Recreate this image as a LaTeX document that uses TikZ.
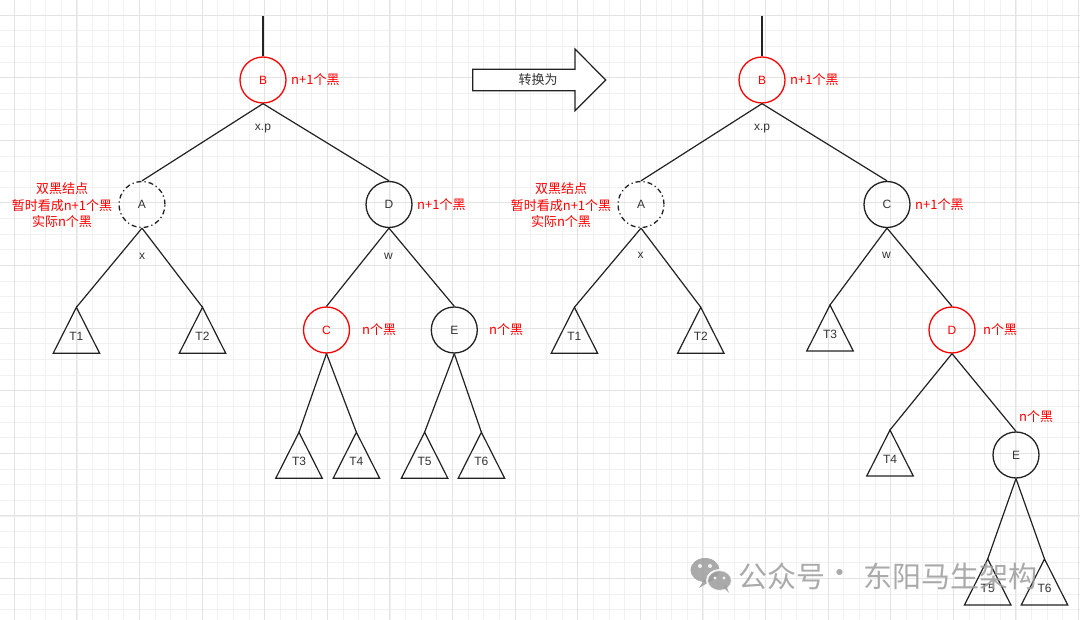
\documentclass[tikz,border=0pt]{standalone}
\usepackage{fontspec}
\setmainfont{Liberation Sans}
\newfontfamily\cjk{Noto Sans CJK SC}
\usetikzlibrary{calc}
\definecolor{gridminor}{HTML}{F1F1F1}
\definecolor{gridmajor}{HTML}{E3E3E3}
\definecolor{ink}{HTML}{222222}
\definecolor{txt}{HTML}{333333}
\definecolor{wm}{HTML}{9C9C9C}
\tikzset{
  rnode/.style={circle, draw=red, line width=1.3pt, minimum size=46pt, inner sep=0pt, text=red, font=\fontsize{12}{12}\selectfont},
  bnode/.style={circle, draw=ink, line width=1.3pt, minimum size=46pt, inner sep=0pt, text=txt, font=\fontsize{12}{12}\selectfont},
  dnode/.style={bnode, dash pattern=on 5pt off 3pt on 1.2pt off 3pt},
  note/.style={text=red, font=\cjk\fontsize{13}{16.5}\selectfont, inner sep=0pt, align=center},
  lbl/.style={text=txt, font=\fontsize{12}{12}\selectfont, inner sep=0pt},
  edge/.style={line width=1.2pt, draw=ink},
  minorgrid/.style={draw=gridminor, line width=0.8pt},
  majorgrid/.style={draw=gridmajor, line width=1pt},
}
\newcommand\mytri[4]{%
  \coordinate (#1) at (#2,#3);
  \draw[edge, line join=miter] (#1) -- ++(-23.25,46) -- ++(46.5,0) -- cycle;
  \node[lbl] (#1l) at ($(#1)+(0,29)$) {#4};
}
\begin{document}
\begin{tikzpicture}[x=1pt, y=-1pt]
\useasboundingbox (0,0) rectangle (1080,620);
\fill[white] (0,0) rectangle (1080,620);
% grid
\foreach \i in {-1,...,69} {\pgfmathsetmacro\xx{14.3+\i*15.65}\draw[minorgrid] (\xx,0) -- (\xx,620);}
\foreach \j in {-1,...,39} {\pgfmathsetmacro\yy{15.1+\j*15.65}\draw[minorgrid] (0,\yy) -- (1080,\yy);}
\foreach \i in {0,...,17} {\pgfmathsetmacro\xx{14.3+\i*62.6}\draw[majorgrid] (\xx,0) -- (\xx,620);}
\foreach \j in {0,...,9} {\pgfmathsetmacro\yy{15.1+\j*62.6}\draw[majorgrid] (0,\yy) -- (1080,\yy);}

% ================= left tree =================
\coordinate (topL) at (263,16);
\node[rnode] (B) at (263,80) {B};
\node[note, anchor=west] (Bn) at (291,80) {n+1个黑};
\node[lbl] (xp) at (263,128.5) {x.p};
\node[dnode] (A) at (142,204.5) {A};
\node[note] (An) at (62,205.5) {双黑结点\\暂时看成n+1个黑\\实际n个黑};
\node[bnode] (D) at (389,204.5) {D};
\node[note, anchor=west] (Dn) at (417,204.5) {n+1个黑};
\node[lbl] (xl) at (142,256) {x};
\node[lbl] (wl) at (388.5,256) {w};
\mytri{T1}{76.4}{307.3}{T1}
\mytri{T2}{202.5}{307.3}{T2}
\node[rnode] (C) at (326.5,330) {C};
\node[note, anchor=west] (Cn) at (362,330) {n个黑};
\node[bnode] (E) at (454.3,330) {E};
\node[note, anchor=west] (En) at (489,330) {n个黑};
\mytri{T3}{299}{432.3}{T3}
\mytri{T4}{356.4}{432.3}{T4}
\mytri{T5}{424.6}{432.3}{T5}
\mytri{T6}{481.4}{432.3}{T6}

\draw[edge] (topL) -- (B.north);
\draw[edge] (B.south) -- (A.north);
\draw[edge] (B.south) -- (D.north);
\draw[edge] (A.south) -- (T1);
\draw[edge] (A.south) -- (T2);
\draw[edge] (D.south) -- (C.north);
\draw[edge] (D.south) -- (E.north);
\draw[edge] (C.south) -- (T3);
\draw[edge] (C.south) -- (T4);
\draw[edge] (E.south) -- (T5);
\draw[edge] (E.south) -- (T6);

% ================= arrow =================
\draw[edge, line join=miter, fill=white] (472.7,69.3) -- (575,69.3) -- (575,49) -- (605.7,80) -- (575,110.7) -- (575,90.7) -- (472.7,90.7) -- cycle;
\node[text=txt, font=\cjk\fontsize{13}{13}\selectfont, inner sep=0pt] (arr) at (538,80) {转换为};

% ================= right tree =================
\coordinate (topR) at (762,16);
\node[rnode] (B2) at (762,80) {B};
\node[note, anchor=west] (B2n) at (790,80) {n+1个黑};
\node[lbl] (xp2) at (762,128.5) {x.p};
\node[dnode] (A2) at (641,204.5) {A};
\node[note] (A2n) at (561,205.5) {双黑结点\\暂时看成n+1个黑\\实际n个黑};
\node[bnode] (C2) at (887,204.5) {C};
\node[note, anchor=west] (C2n) at (915,204.5) {n+1个黑};
\node[lbl] (xl2) at (640.5,255.5) {x};
\node[lbl] (wl2) at (886.5,255.5) {w};
\mytri{T1r}{574.4}{307.3}{T1}
\mytri{T2r}{700.8}{307.3}{T2}
\mytri{T3r}{830}{305}{T3}
\node[rnode] (D2) at (952,330) {D};
\node[note, anchor=west] (D2n) at (983,330) {n个黑};
\mytri{T4r}{890}{430}{T4}
\node[bnode] (E2) at (1016,455) {E};
\node[note, anchor=west] (E2n) at (1019,416.7) {n个黑};
\mytri{T5r}{987.7}{559}{T5}
\mytri{T6r}{1044.5}{559}{T6}

\draw[edge] (topR) -- (B2.north);
\draw[edge] (B2.south) -- (A2.north);
\draw[edge] (B2.south) -- (C2.north);
\draw[edge] (A2.south) -- (T1r);
\draw[edge] (A2.south) -- (T2r);
\draw[edge] (C2.south) -- (T3r);
\draw[edge] (C2.south) -- (D2.north);
\draw[edge] (D2.south) -- (T4r);
\draw[edge] (D2.south) -- (E2.north);
\draw[edge] (E2.south) -- (T5r);
\draw[edge] (E2.south) -- (T6r);

% ================= watermark =================
\begin{scope}[opacity=0.85]
\fill[wm] (705,570) ellipse [x radius=14.5, y radius=12];
\fill[wm] (704,580) -- (699,588) -- (711,581) -- cycle;
\fill[white] (700,566) circle (2);
\fill[white] (710,566) circle (2);
\draw[white, line width=2pt, fill=wm] (719.5,580.5) ellipse [x radius=12.5, y radius=10.5];
\fill[wm] (724,588) -- (729,593) -- (726,585) -- cycle;
\fill[white] (715,578) circle (1.7);
\fill[white] (724,578) circle (1.7);
\node[text=wm, font=\cjk\fontsize{29}{29}\selectfont, inner sep=0pt, anchor=west] (wm1) at (738,576) {公众号};
\node[text=wm, font=\cjk\fontsize{29}{29}\selectfont, inner sep=0pt] (wm2) at (840,576) {·};
\node[text=wm, font=\cjk\fontsize{29}{29}\selectfont, inner sep=0pt, anchor=west] (wm3) at (863,576) {东阳马生架构};
\end{scope}
\end{tikzpicture}
\end{document}
